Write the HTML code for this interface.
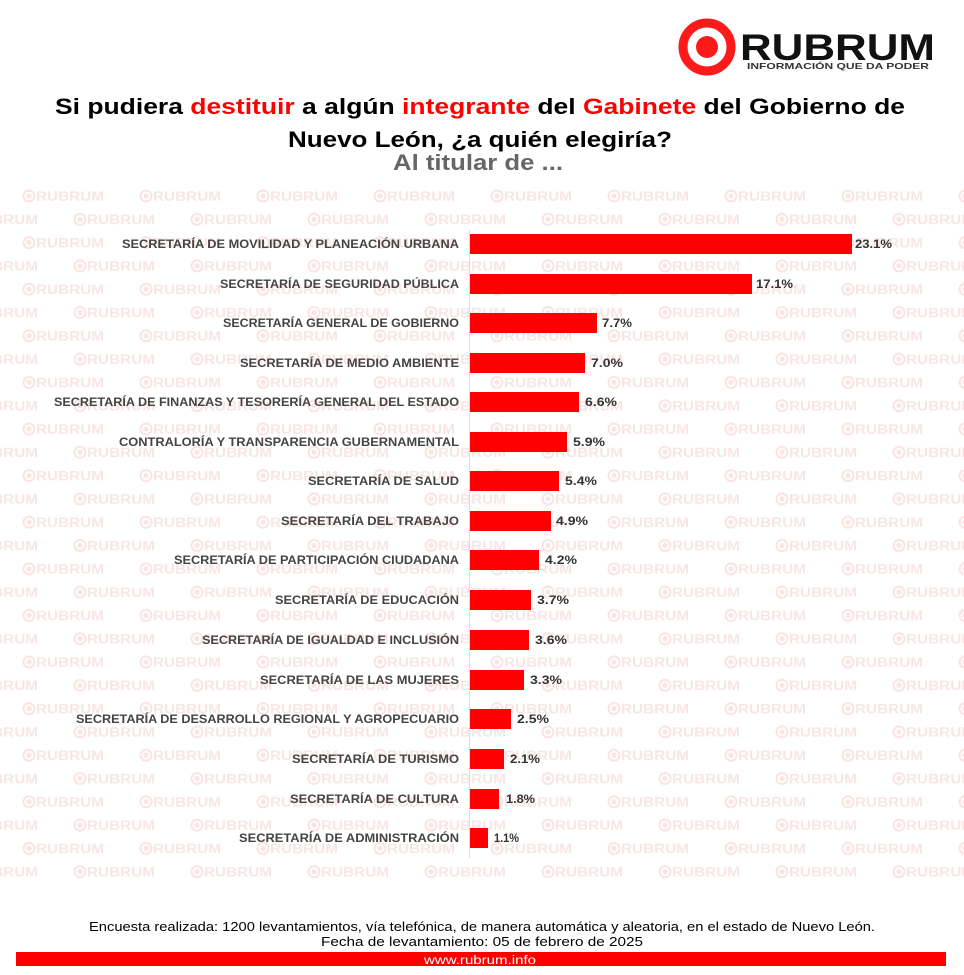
<!DOCTYPE html>
<html><head><meta charset="utf-8"><style>
html,body{margin:0;padding:0;background:#fff;}
svg{display:block;}
</style></head><body>
<svg width="964" height="975" viewBox="0 0 964 975" xmlns="http://www.w3.org/2000/svg" font-family="Liberation Sans, sans-serif">
<defs>
<pattern id="wm" patternUnits="userSpaceOnUse" x="0" y="0" width="117" height="46.6">
 <g fill="none" stroke="#fae3e3" stroke-width="2"><circle cx="29" cy="9.6" r="5.5"/><circle cx="80" cy="32.9" r="5.5"/></g>
 <circle cx="29" cy="9.6" r="2.6" fill="#fae3e3"/><circle cx="80" cy="32.9" r="2.6" fill="#fae3e3"/>
 <text x="36" y="14.4" font-size="13.5" font-weight="bold" fill="#f8e6e6" textLength="68" lengthAdjust="spacingAndGlyphs">RUBRUM</text>
 <text x="87" y="37.7" font-size="13.5" font-weight="bold" fill="#f8e6e6" textLength="68" lengthAdjust="spacingAndGlyphs">RUBRUM</text>
 <text x="-30" y="37.7" font-size="13.5" font-weight="bold" fill="#f8e6e6" textLength="68" lengthAdjust="spacingAndGlyphs">RUBRUM</text>
</pattern>
</defs>
<rect x="0" y="185" width="964" height="695" fill="url(#wm)"/>

<!-- logo -->
<circle cx="707" cy="47" r="24" fill="none" stroke="#ff1a1a" stroke-width="9"/>
<circle cx="707" cy="47" r="11" fill="#ff1a1a"/>
<text x="740" y="60" font-size="37" font-weight="bold" fill="#111" textLength="195" lengthAdjust="spacingAndGlyphs">RUBRUM</text>
<text x="747" y="69" font-size="8.5" font-weight="bold" fill="#333" textLength="182" lengthAdjust="spacingAndGlyphs">INFORMACIÓN QUE DA PODER</text>

<!-- title -->
<text x="55" y="114" font-size="22" font-weight="bold" fill="#000" textLength="850" lengthAdjust="spacingAndGlyphs">Si pudiera <tspan fill="#ff0000">destituir</tspan> a algún <tspan fill="#ff0000">integrante</tspan> del <tspan fill="#ff0000">Gabinete</tspan> del Gobierno de</text>
<text x="288" y="147" font-size="22" font-weight="bold" fill="#000" textLength="384" lengthAdjust="spacingAndGlyphs">Nuevo León, ¿a quién elegiría?</text>
<text x="393" y="170" font-size="22" font-weight="bold" fill="#666" textLength="170" lengthAdjust="spacingAndGlyphs">Al titular de ...</text>

<line x1="469.5" y1="230" x2="469.5" y2="858" stroke="#ddd" stroke-width="1"/>

<g font-size="11.5" font-weight="bold" fill="#444" text-anchor="end">
<text x="459" y="248" textLength="337" lengthAdjust="spacingAndGlyphs">SECRETARÍA DE MOVILIDAD Y PLANEACIÓN URBANA</text>
<text x="459" y="288" textLength="239" lengthAdjust="spacingAndGlyphs">SECRETARÍA DE SEGURIDAD PÚBLICA</text>
<text x="459" y="327" textLength="236" lengthAdjust="spacingAndGlyphs">SECRETARÍA GENERAL DE GOBIERNO</text>
<text x="459" y="367" textLength="219" lengthAdjust="spacingAndGlyphs">SECRETARÍA DE MEDIO AMBIENTE</text>
<text x="459" y="406" textLength="405" lengthAdjust="spacingAndGlyphs">SECRETARÍA DE FINANZAS Y TESORERÍA GENERAL DEL ESTADO</text>
<text x="459" y="446" textLength="340" lengthAdjust="spacingAndGlyphs">CONTRALORÍA Y TRANSPARENCIA GUBERNAMENTAL</text>
<text x="459" y="485" textLength="151" lengthAdjust="spacingAndGlyphs">SECRETARÍA DE SALUD</text>
<text x="459" y="525" textLength="178" lengthAdjust="spacingAndGlyphs">SECRETARÍA DEL TRABAJO</text>
<text x="459" y="564" textLength="285" lengthAdjust="spacingAndGlyphs">SECRETARÍA DE PARTICIPACIÓN CIUDADANA</text>
<text x="459" y="604" textLength="184" lengthAdjust="spacingAndGlyphs">SECRETARÍA DE EDUCACIÓN</text>
<text x="459" y="644" textLength="257" lengthAdjust="spacingAndGlyphs">SECRETARÍA DE IGUALDAD E INCLUSIÓN</text>
<text x="459" y="684" textLength="199" lengthAdjust="spacingAndGlyphs">SECRETARÍA DE LAS MUJERES</text>
<text x="459" y="723" textLength="383" lengthAdjust="spacingAndGlyphs">SECRETARÍA DE DESARROLLO REGIONAL Y AGROPECUARIO</text>
<text x="459" y="763" textLength="167" lengthAdjust="spacingAndGlyphs">SECRETARÍA DE TURISMO</text>
<text x="459" y="803" textLength="169" lengthAdjust="spacingAndGlyphs">SECRETARÍA DE CULTURA</text>
<text x="459" y="842" textLength="220" lengthAdjust="spacingAndGlyphs">SECRETARÍA DE ADMINISTRACIÓN</text>
</g>

<g fill="#ff0000">
<rect x="470" y="234" width="382" height="20"/>
<rect x="470" y="274" width="282" height="20"/>
<rect x="470" y="313" width="127" height="20"/>
<rect x="470" y="353" width="115" height="20"/>
<rect x="470" y="392" width="109" height="20"/>
<rect x="470" y="432" width="97" height="20"/>
<rect x="470" y="471" width="89" height="20"/>
<rect x="470" y="511" width="81" height="20"/>
<rect x="470" y="550" width="69" height="20"/>
<rect x="470" y="590" width="61" height="20"/>
<rect x="470" y="630" width="59" height="20"/>
<rect x="470" y="670" width="54" height="20"/>
<rect x="470" y="709" width="41" height="20"/>
<rect x="470" y="749" width="34" height="20"/>
<rect x="470" y="789" width="29" height="20"/>
<rect x="470" y="828" width="18" height="20"/>
</g>

<g font-size="11.5" font-weight="bold" fill="#333">
<text x="855" y="248" textLength="37" lengthAdjust="spacingAndGlyphs">23.1%</text>
<text x="756" y="288" textLength="37" lengthAdjust="spacingAndGlyphs">17.1%</text>
<text x="602" y="327" textLength="30" lengthAdjust="spacingAndGlyphs">7.7%</text>
<text x="591" y="367" textLength="32" lengthAdjust="spacingAndGlyphs">7.0%</text>
<text x="585" y="406" textLength="32" lengthAdjust="spacingAndGlyphs">6.6%</text>
<text x="573" y="446" textLength="32" lengthAdjust="spacingAndGlyphs">5.9%</text>
<text x="565" y="485" textLength="32" lengthAdjust="spacingAndGlyphs">5.4%</text>
<text x="556" y="525" textLength="32" lengthAdjust="spacingAndGlyphs">4.9%</text>
<text x="545" y="564" textLength="32" lengthAdjust="spacingAndGlyphs">4.2%</text>
<text x="537" y="604" textLength="32" lengthAdjust="spacingAndGlyphs">3.7%</text>
<text x="535" y="644" textLength="32" lengthAdjust="spacingAndGlyphs">3.6%</text>
<text x="530" y="684" textLength="32" lengthAdjust="spacingAndGlyphs">3.3%</text>
<text x="517" y="723" textLength="32" lengthAdjust="spacingAndGlyphs">2.5%</text>
<text x="510" y="763" textLength="30" lengthAdjust="spacingAndGlyphs">2.1%</text>
<text x="506" y="803" textLength="29" lengthAdjust="spacingAndGlyphs">1.8%</text>
<text x="494" y="842" textLength="25" lengthAdjust="spacingAndGlyphs">1.1%</text>
</g>

<text x="482" y="931" font-size="12.5" fill="#000" text-anchor="middle" textLength="786" lengthAdjust="spacingAndGlyphs">Encuesta realizada: 1200 levantamientos, vía telefónica, de manera automática y aleatoria, en el estado de Nuevo León.</text>
<text x="482" y="946" font-size="12.5" fill="#000" text-anchor="middle" textLength="322" lengthAdjust="spacingAndGlyphs">Fecha de levantamiento: 05 de febrero de 2025</text>
<rect x="16" y="952" width="930" height="14" fill="#ff0000"/>
<text x="480" y="964" font-size="11.5" fill="#fff" text-anchor="middle" textLength="112" lengthAdjust="spacingAndGlyphs">www.rubrum.info</text>
</svg>
</body></html>
